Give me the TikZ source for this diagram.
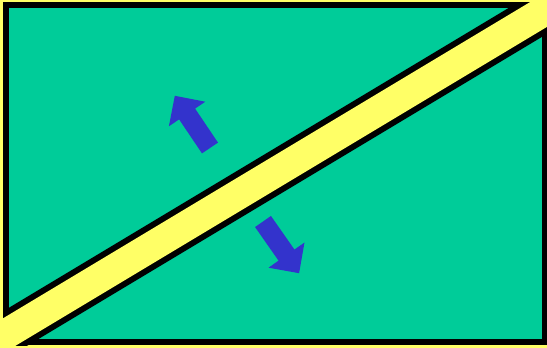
\documentclass[tikz,border=0pt]{standalone}
\definecolor{bggreen}{HTML}{00CC99}
\definecolor{bandyellow}{HTML}{FFFF66}
\definecolor{arrowblue}{HTML}{3333CC}
\begin{document}
\begin{tikzpicture}[x=1pt,y=-1pt,
  arrowshape/.style={fill=arrowblue, draw=none},
  bandedge/.style={draw=black, line width=42pt},
  bandcore/.style={draw=bandyellow, line width=30pt}]
\useasboundingbox (0,0) rectangle (547,348);
\fill[bandyellow] (0,0) rectangle (547,348);
% field
\draw[line width=6pt, fill=bggreen] (6,5) rectangle (545,342);
% band
\coordinate (bandA) at (-30,355.6);
\coordinate (bandB) at (580,-10.4);
\begin{scope}
  \clip (3,2) rectangle (548,345);
  \path[bandedge] (bandA) -- (bandB);
\end{scope}
\path[bandcore] (bandA) -- (bandB);
% up-left arrow
\fill[arrowshape] (218.0,142.6) -- (195.1,108.6) -- (205.3,101.7) -- (174.8,95.8)
  -- (168.9,126.3) -- (179.1,119.4) -- (202.0,153.4) -- cycle;
% down-right arrow
\fill[arrowshape] (270.95,215.94) -- (294.45,249.54) -- (304.5,242.5) -- (299.1,273.2)
  -- (268.5,267.7) -- (278.55,260.66) -- (255.05,227.06) -- cycle;
\end{tikzpicture}
\end{document}
